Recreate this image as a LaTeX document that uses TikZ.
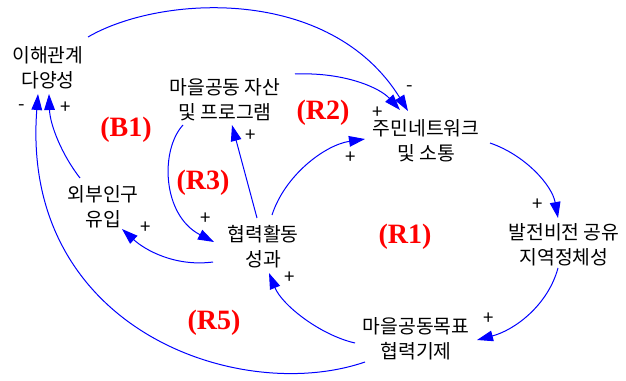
\documentclass[tikz,border=0pt]{standalone}
\usepackage{fontspec}
\newfontfamily\krfont{Noto Sans CJK KR}
\newfontfamily\loopfont{Liberation Serif}
\usetikzlibrary{arrows.meta}
\definecolor{linkblue}{RGB}{0,0,255}
\definecolor{loopred}{RGB}{255,0,0}
\begin{document}
\begin{tikzpicture}[x=0.75pt,y=-0.75pt,
 var/.style={align=center,inner sep=0pt,font=\krfont\fontsize{14.5}{18.5}\selectfont},
 link/.style={draw=linkblue,line width=0.75pt,-{Triangle[length=12pt,width=8pt]}},
 pol/.style={inner sep=0pt,font=\krfont\fontsize{14}{14}\selectfont},
 looplbl/.style={text=loopred,font=\loopfont\bfseries\fontsize{21}{21}\selectfont,inner sep=0pt}]
\useasboundingbox (0,0) rectangle (626,381);

% variables
\node[var] (stake) at (48,68) {이해관계\\다양성};
\node[var] (asset) at (225,100) {마을공동 자산\\및 프로그램};
\node[var] (net) at (426,141) {주민네트워크\\및 소통};
\node[var] (ext) at (103,207) {외부인구\\유입};
\node[var] (coop) at (263,247) {협력활동\\성과};
\node[var] (vision) at (564,245) {발전비전 공유\\지역정체성};
\node[var] (goal) at (416,339) {마을공동목표\\협력기제};

% links
\draw[link] ([shift={(40,-31)}]stake.center) .. controls (160,-5) and (330,-15) .. ([shift={(-18,-30)}]net.center);
\draw[link] ([shift={(70,-26)}]asset.center) .. controls (345,72) and (380,88) .. ([shift={(-26,-31)}]net.center);
\draw[link] ([shift={(9,-32)}]coop.center) .. controls (285,175) and (325,145) .. ([shift={(-61,-2)}]net.center);
\draw[link] ([shift={(64,2)}]net.center) .. controls (525,155) and (552,185) .. ([shift={(-6,-27)}]vision.center);
\draw[link] ([shift={(-6,23)}]vision.center) .. controls (548,305) and (515,330) .. ([shift={(61,1)}]goal.center);
\draw[link] ([shift={(-61,4)}]goal.center) .. controls (320,335) and (282,305) .. ([shift={(6,26)}]coop.center);
\draw[link] ([shift={(-50,15)}]coop.center) .. controls (175,267) and (145,250) .. ([shift={(19,22)}]ext.center);
\draw[link] ([shift={(-6,-29)}]coop.center) -- ([shift={(7,25)}]asset.center);
\draw[link] ([shift={(-42,25)}]asset.center) .. controls (160,150) and (162,215) .. ([shift={(-49,-5)}]coop.center);
\draw[link] ([shift={(-23,-29)}]ext.center) .. controls (62,155) and (50,125) .. ([shift={(1,26)}]stake.center);
\draw[link] ([shift={(-51,23)}]goal.center) .. controls (240,405) and (20,330) .. ([shift={(-10,26)}]stake.center);

% polarities
\node[pol] (p1) at (410,89) {-};
\node[pol] (p2) at (378,113) {+};
\node[pol] (p3) at (351,158) {+};
\node[pol] (p4) at (538,205) {+};
\node[pol] (p5) at (489,319) {+};
\node[pol] (p6) at (290,278) {+};
\node[pol] (p7) at (146,228) {+};
\node[pol] (p8) at (251,136) {+};
\node[pol] (p9) at (206,219) {+};
\node[pol] (p10) at (66,108) {+};
\node[pol] (p11) at (22,108) {-};

% loop labels
\node[looplbl] (b1) at (126,130) {(B1)};
\node[looplbl] (r2) at (323,113) {(R2)};
\node[looplbl] (r3) at (203,183) {(R3)};
\node[looplbl] (r1) at (405,237) {(R1)};
\node[looplbl] (r5) at (214,323) {(R5)};
\end{tikzpicture}
\end{document}
